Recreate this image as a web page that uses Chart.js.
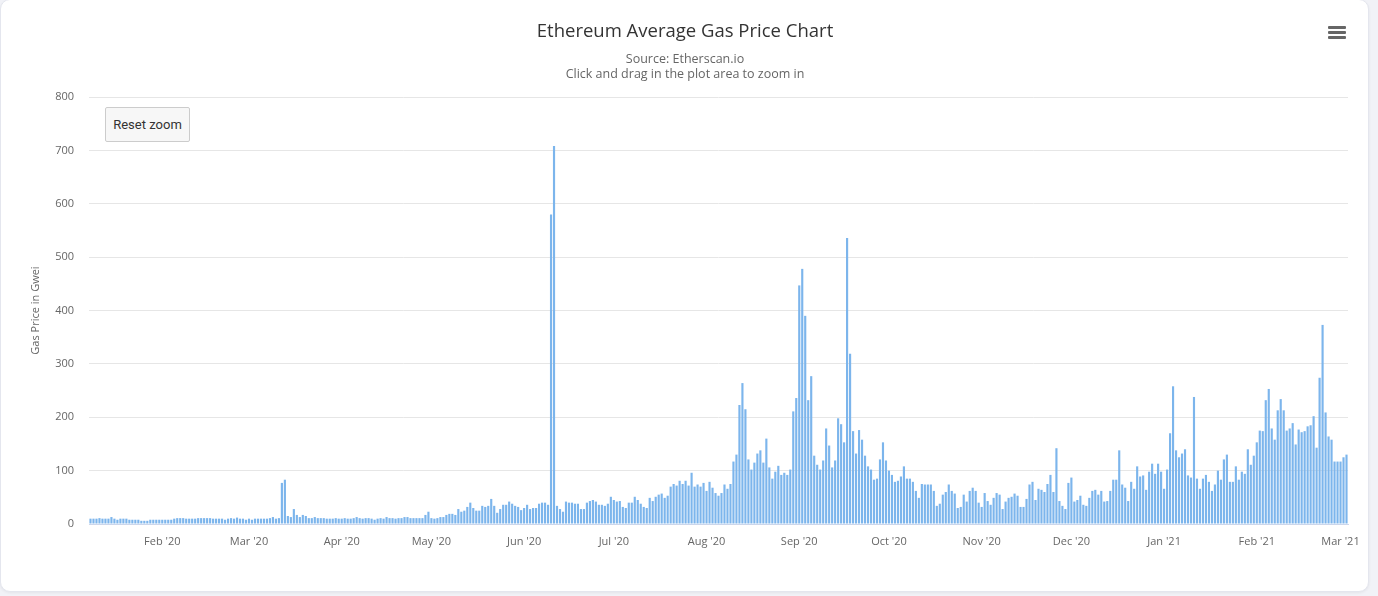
<!DOCTYPE html>
<html>
<head>
<meta charset="utf-8">
<title>Ethereum Average Gas Price Chart</title>
<script src="https://cdn.jsdelivr.net/npm/chart.js@4"></script>
<style>
  html, body { margin: 0; padding: 0; }
  body { background: #f1f2f7; width: 1378px; height: 596px; overflow: hidden; font-family: Roboto, sans-serif; }
  #card {
    position: absolute; left: 0; top: -1px; width: 1367px; height: 591px;
    background: #fff; border: 1px solid #e4e6ee; border-radius: 10px;
    box-shadow: 0 1px 3px rgba(0,0,0,0.06);
  }
  #myChart { position: absolute; left: 0; top: 0; }
  #resetZoom {
    position: absolute; left: 104px; top: 107px; width: 85px; height: 35px;
    background: #f7f7f7; border: 1px solid #cccccc; border-radius: 2px;
    font: 13px Roboto, sans-serif; color: #333; padding: 0; box-sizing: border-box;
  }
  #menu { position: absolute; left: 1327px; top: 26px; width: 18px; }
  #menu div { height: 3px; background: #666; border-radius: 1px; margin-bottom: 2px; }
</style>
</head>
<body>
<div id="card">
  <canvas id="myChart" width="1368" height="590"></canvas>
  <button id="resetZoom">Reset zoom</button>
  <div id="menu"><div></div><div></div><div></div></div>
</div>
<script>
// daily average gas price (Gwei), one array per month, first day 2020-01-08
var jan20 = [10,10,10,11,10,10,10,13,10,8,10,10,10,8,8,8,8,6,6,6,8,8,8,8];
var feb20 = [8,8,8,8,10,11,11,11,10,10,10,10,11,11,11,11,11,10,10,10,10,8,10,11,10,12,10,10,8];
var mar20 = [10,8,10,10,10,10,10,11,13,10,11,77,83,15,13,28,17,13,17,15,11,11,13,11,11,11,10,10,10,11,10];
var apr20 = [10,11,10,10,11,13,11,10,11,11,10,8,10,11,10,13,11,11,10,11,11,13,13,11,11,11,11,11,17,23];
var may20 = [11,10,11,13,13,17,19,19,17,28,23,25,32,40,30,25,25,34,32,34,47,34,21,28,36,36,42,38,34,32,26];
var jun20 = [30,36,28,30,30,38,40,40,36,580,708,34,28,23,42,40,40,38,38,28,28,40,43,45,42,36,36,34,38,51];
var jul20 = [45,42,43,32,30,40,40,51,45,38,32,30,49,43,51,55,57,49,53,70,75,72,81,75,81,72,96,70,74,70,77];
var aug20 = [62,79,68,58,53,58,74,66,75,117,130,223,264,215,121,102,115,132,138,115,160,106,85,98,109,92,96,92,102,211,236];
var sep20 = [447,478,390,232,277,128,111,102,119,179,147,106,119,198,187,153,536,319,174,132,176,158,128,108,102,83,85,121,153,119];
var oct20 = [100,92,79,81,89,108,85,85,79,62,49,75,74,74,74,62,34,38,55,60,74,62,57,30,32,55,42,62,68,62,40];
var nov20 = [32,58,43,36,49,58,55,28,42,49,51,57,53,32,32,47,74,79,45,66,64,60,75,92,60,142,43,34,28,77];
var dec20 = [87,42,45,53,36,34,49,62,64,55,62,42,43,62,83,83,138,74,68,43,79,66,108,89,91,64,98,113,94,113,98];
var jan21 = [66,102,170,258,138,125,132,140,91,87,238,85,66,85,92,79,62,74,100,83,121,130,79,79,108,83,98,94,140,111,128];
var feb21 = [153,175,174,232,253,179,158,213,234,213,175,179,189,149,177,172,174,183,185,202,143,274,373,209,164,158,117,117];
var mar21 = [117,125,130];

var yTicks = [0, 100, 200, 300, 400, 500, 600, 700, 800];
var monthNames = ['Jan','Feb','Mar','Apr','May','Jun','Jul','Aug','Sep','Oct','Nov','Dec'];

var gasPrice = [].concat(jan20, feb20, mar20, apr20, may20, jun20, jul20, aug20, sep20, oct20, nov20, dec20, jan21, feb21, mar21);

// one label per day
var days = gasPrice.map(function (v, i) {
  return new Date(Date.UTC(2020, 0, 8 + i));
});
var dayLabels = days.map(function (d) { return d.toISOString().slice(0, 10); });

function monthLabel(i) {
  var d = days[i];
  if (d.getUTCDate() !== 1) return null;
  return monthNames[d.getUTCMonth()] + " '" + String(d.getUTCFullYear()).slice(2);
}

var ctx = document.getElementById('myChart').getContext('2d');
var chart = new Chart(ctx, {
  type: 'bar',
  data: {
    labels: dayLabels,
    datasets: [{
      label: 'Gas Price in Gwei',
      data: gasPrice,
      backgroundColor: '#7cb5ec',
      borderWidth: 0,
      barPercentage: 0.72,
      categoryPercentage: 1.0
    }]
  },
  options: {
    responsive: false,
    animation: false,
    devicePixelRatio: 1,
    // symmetric side padding keeps the title centred on the card
    layout: { padding: { left: 21, right: 21, top: 0, bottom: 0 } },
    plugins: {
      legend: { display: false },
      tooltip: { enabled: true },
      title: {
        display: true,
        text: 'Ethereum Average Gas Price Chart',
        color: '#333333',
        font: { family: 'Open Sans', size: 18.5, weight: 'normal', lineHeight: 1.2 },
        padding: { top: 20.7, bottom: 9 }
      },
      subtitle: {
        display: true,
        text: ['Source: Etherscan.io', 'Click and drag in the plot area to zoom in'],
        color: '#666666',
        font: { family: 'Open Sans', size: 12.5, lineHeight: 1.2 },
        padding: { top: 0, bottom: 15.1 }
      }
    },
    scales: {
      x: {
        offset: true,
        grid: {
          offset: false,
          drawOnChartArea: false,
          tickLength: 9,
          color: function (c) {
            return (c.index !== undefined && monthLabel(c.index)) ? '#ccd6eb' : 'rgba(0,0,0,0)';
          }
        },
        border: { color: '#ccd6eb' },
        ticks: {
          autoSkip: false,
          maxRotation: 0,
          minRotation: 0,
          padding: 2,
          color: '#666666',
          font: { family: 'Open Sans', size: 11 },
          callback: function (value, index) { return monthLabel(index); }
        },
        afterFit: function (scale) { scale.height = 66; }
      },
      y: {
        min: 0,
        max: 800,
        afterBuildTicks: function (scale) {
          scale.ticks = yTicks.map(function (v) { return { value: v }; });
        },
        grid: { color: '#e6e6e6', drawTicks: false },
        border: { display: false },
        ticks: {
          padding: 15,
          color: '#666666',
          font: { family: 'Open Sans', size: 11 }
        },
        title: {
          display: true,
          text: 'Gas Price in Gwei',
          color: '#666666',
          font: { family: 'Open Sans', size: 11, lineHeight: 1.2 },
          padding: { top: 7, bottom: 0 }
        },
        afterFit: function (scale) { scale.width = 67; }
      }
    }
  }
});
</script>
</body>
</html>
